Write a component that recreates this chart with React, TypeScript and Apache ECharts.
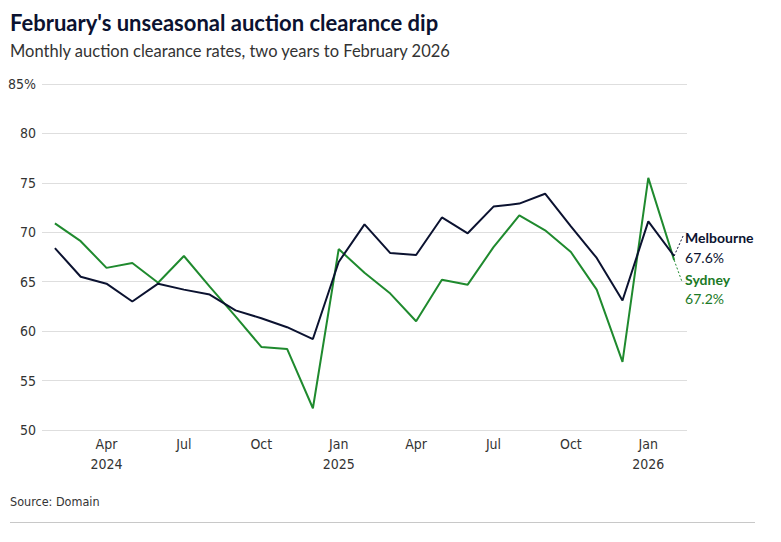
import React, { useEffect, useRef } from "react";
import * as echarts from "echarts";

const categories = [
  "Feb 2024", "Mar 2024", "Apr 2024", "May 2024", "Jun 2024", "Jul 2024", "Aug 2024", "Sep 2024", "Oct 2024", "Nov 2024", "Dec 2024",
  "Jan 2025", "Feb 2025", "Mar 2025", "Apr 2025", "May 2025", "Jun 2025", "Jul 2025", "Aug 2025", "Sep 2025", "Oct 2025", "Nov 2025", "Dec 2025",
  "Jan 2026", "Feb 2026",
];

const melbourne = [68.4, 65.5, 64.8, 63.0, 64.8, 64.2, 63.7, 62.1, 61.3, 60.4, 59.2, 67.0, 70.8, 67.9, 67.7, 71.5, 69.9, 72.6, 72.9, 73.9, 70.6, 67.4, 63.1, 71.1, 67.6];
const sydney = [70.9, 69.1, 66.4, 66.9, 64.9, 67.6, 64.5, 61.5, 58.4, 58.2, 52.2, 68.3, 65.9, 63.8, 61.0, 65.2, 64.7, 68.5, 71.7, 70.2, 68.0, 64.2, 56.9, 75.5, 67.2];

const shownMonths = ["Apr", "Jul", "Oct", "Jan"];
const yearLabelled = ["Apr 2024", "Jan 2025", "Jan 2026"];

const MEL = "#0b1230";
const SYD = "#1f8a2e";
const SYD_TEXT = "#1b7a26";
const TICK_FONT = "'Liberation Sans Narrow', 'DejaVu Sans Condensed', sans-serif";
const MAIN_FONT = "Lato, 'Noto Sans', sans-serif";

export default function App() {
  const ref = useRef<HTMLDivElement>(null);

  useEffect(() => {
    if (!ref.current) return;
    const chart = echarts.init(ref.current, null, { renderer: "svg" });
    chart.setOption({
      animation: false,
      backgroundColor: "#ffffff",
      title: {
        text: "February's unseasonal auction clearance dip",
        subtext: "Monthly auction clearance rates, two years to February 2026",
        left: 5,
        top: 6,
        itemGap: 9,
        textStyle: { fontFamily: MAIN_FONT, fontWeight: "bold", fontSize: 22, color: "#0b1230" },
        subtextStyle: { fontFamily: MAIN_FONT, fontSize: 16.5, color: "#333333" },
      },
      grid: { left: 42, right: 94, top: 84, bottom: 112 },
      xAxis: {
        type: "category",
        data: categories,
        boundaryGap: true,
        axisLine: { show: false },
        axisTick: { show: false },
        axisLabel: {
          interval: (i: number, v: string) => shownMonths.includes(v.split(" ")[0]),
          formatter: (v: string) => {
            const [m, y] = v.split(" ");
            return yearLabelled.includes(v) ? `${m}\n${y}` : m;
          },
          margin: 4,
          fontFamily: TICK_FONT,
          fontSize: 14,
          lineHeight: 20,
          color: "#333333",
        },
      },
      yAxis: {
        type: "value",
        min: 50,
        max: 85,
        interval: 5,
        axisLine: { show: false },
        axisTick: { show: false },
        splitLine: { lineStyle: { color: "#dedede", width: 1 } },
        axisLabel: {
          formatter: (v: number) => (v === 85 ? `${v}%` : `${v}`),
          margin: 6,
          fontFamily: TICK_FONT,
          fontSize: 14,
          color: "#333333",
        },
      },
      series: [
        {
          name: "Sydney",
          type: "line",
          data: sydney,
          symbol: "none",
          lineStyle: { color: SYD, width: 2 },
          z: 2,
        },
        {
          name: "Melbourne",
          type: "line",
          data: melbourne,
          symbol: "none",
          lineStyle: { color: MEL, width: 2 },
          z: 3,
        },
      ],
    });

    const last = categories.length - 1;
    const pMel = chart.convertToPixel({ seriesIndex: 1 }, [last, melbourne[last]]) as number[];
    const pSyd = chart.convertToPixel({ seriesIndex: 0 }, [last, sydney[last]]) as number[];
    const px = pMel[0];
    const py = (pMel[1] + pSyd[1]) / 2;
    const tx = px + 11;

    chart.setOption({
      graphic: [
        {
          type: "line",
          shape: { x1: px, y1: py - 2, x2: px + 9, y2: py - 22 },
          style: { stroke: MEL, lineWidth: 1, lineDash: [2, 2] },
        },
        {
          type: "line",
          shape: { x1: px, y1: py + 2, x2: px + 8, y2: py + 24 },
          style: { stroke: SYD, lineWidth: 1, lineDash: [2, 2] },
        },
        {
          type: "text",
          x: tx,
          y: py - 20,
          style: { text: "Melbourne", fill: MEL, font: `bold 14px ${MAIN_FONT}`, textVerticalAlign: "middle" },
        },
        {
          type: "text",
          x: tx,
          y: py,
          style: { text: `${melbourne[last].toFixed(1)}%`, fill: MEL, font: `14px ${MAIN_FONT}`, textVerticalAlign: "middle" },
        },
        {
          type: "text",
          x: tx,
          y: py + 22,
          style: { text: "Sydney", fill: SYD_TEXT, font: `bold 14px ${MAIN_FONT}`, textVerticalAlign: "middle" },
        },
        {
          type: "text",
          x: tx,
          y: py + 41,
          style: { text: `${sydney[last].toFixed(1)}%`, fill: SYD_TEXT, font: `14px ${MAIN_FONT}`, textVerticalAlign: "middle" },
        },
        {
          type: "text",
          left: 10,
          top: 495,
          style: { text: "Source: Domain", fill: "#333333", font: `12.5px ${TICK_FONT}` },
        },
        {
          type: "line",
          shape: { x1: 10, y1: 522.5, x2: 755, y2: 522.5 },
          style: { stroke: "#c8c8c8", lineWidth: 1 },
        },
      ],
    });

    return () => chart.dispose();
  }, []);

  return (
    <div
      ref={ref}
      style={{ position: "fixed", left: 0, top: 0, width: 781, height: 542 }}
    />
  );
}
